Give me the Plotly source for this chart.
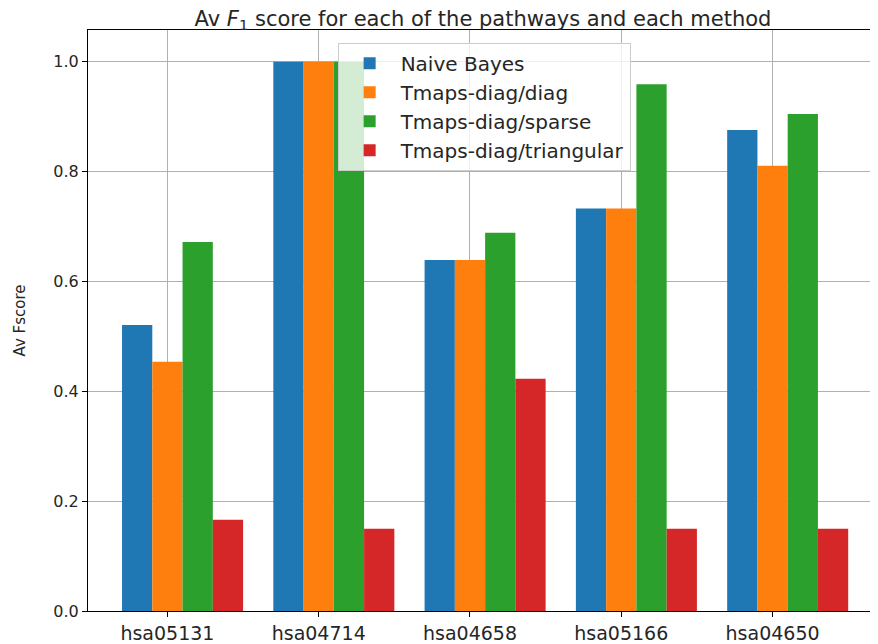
import plotly.graph_objects as go

pathways = ["hsa05131", "hsa04714", "hsa04658", "hsa05166", "hsa04650"]
methods = ["Naive Bayes", "Tmaps-diag/diag", "Tmaps-diag/sparse", "Tmaps-diag/triangular"]
naive_bayes = [0.521, 1.0, 0.639, 0.733, 0.876]
tmaps_diag = [0.454, 1.0, 0.639, 0.733, 0.811]
tmaps_sparse = [0.672, 1.0, 0.689, 0.959, 0.905]
tmaps_tri = [0.166, 0.150, 0.423, 0.150, 0.150]
colors = ["#1f77b4", "#ff7f0e", "#2ca02c", "#d62728"]

series = [naive_bayes, tmaps_diag, tmaps_sparse, tmaps_tri]
offsets = [-0.2, 0.0, 0.2, 0.4]
width = 0.2

fig = go.Figure()
for name, vals, col, off in zip(methods, series, colors, offsets):
    fig.add_trace(go.Bar(
        x=[i + off for i in range(len(pathways))],
        y=vals,
        width=width,
        name=name,
        marker=dict(color=col, line=dict(width=0)),
    ))

font_family = "DejaVu Sans"
# page body has an 8px margin: figure is shrunk so the screenshot matches
fig.update_layout(
    width=870, height=636,
    margin=dict(l=80, r=0, t=22, b=29),
    paper_bgcolor="white", plot_bgcolor="white",
    barmode="overlay",
    font=dict(family=font_family, size=16, color="#262626"),
    title=dict(text="Av <i>F</i><sub>1</sub> score for each of the pathways and each method",
               x=0.546, xanchor="center", yref="container", y=0.995, yanchor="top",
               pad=dict(t=0, b=0),
               font=dict(size=21, family=font_family, color="#262626")),
    showlegend=True,
    legend=dict(x=0.316, y=0.978, xanchor="left", yanchor="top", itemwidth=52,
                bgcolor="rgba(255,255,255,0.8)", bordercolor="#cccccc", borderwidth=1,
                font=dict(size=20, family=font_family, color="#262626")),
    xaxis=dict(range=[-0.525, 4.697], tickvals=list(range(len(pathways))), ticktext=pathways,
               showgrid=True, gridcolor="#b0b0b0", gridwidth=1,
               showline=True, linecolor="black", linewidth=1, mirror=True,
               ticks="outside", ticklen=5, tickcolor="black",
               layer="above traces", zeroline=False,
               tickfont=dict(size=19)),
    yaxis=dict(range=[0, 1.058], dtick=0.2, tickformat=".1f",
               showgrid=True, gridcolor="#b0b0b0", gridwidth=1,
               showline=True, linecolor="black", linewidth=1,
               ticks="outside", ticklen=5, tickcolor="black",
               layer="above traces", zeroline=False,
               title=dict(text="Av Fscore", standoff=24, font=dict(size=15)),
               tickfont=dict(size=16)),
)

fig.write_html("out.html")
